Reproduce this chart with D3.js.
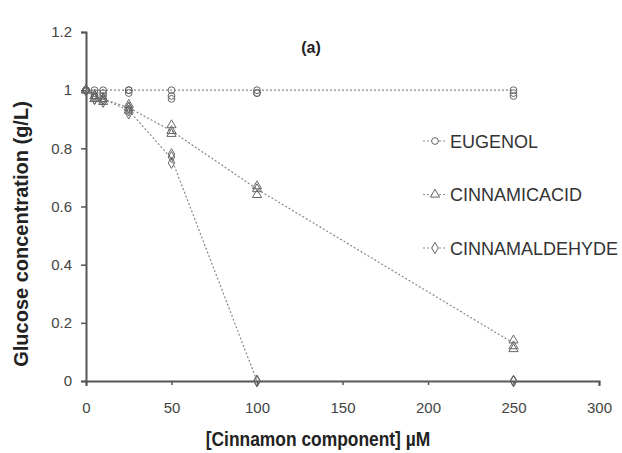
<!DOCTYPE html>
<html>
<head>
<meta charset="utf-8">
<script src="https://cdn.jsdelivr.net/npm/d3@7"></script>
<style>
body { margin: 0; background: #fff; }
text { font-family: Arial, "Liberation Sans", sans-serif; }
</style>
</head>
<body>
<script>
var width = 622, height = 453;
var margin = {left: 86, top: 32, right: 23, bottom: 72};

// concentrations (µM), replicate readings and plotted mean per series
var doses = [0, 5, 10, 25, 50, 100, 250];
var eugenol = [[1, 1, 1], [1, 0.99, 0.98], [1, 0.99, 0.98], [1, 1, 0.99], [1, 0.98, 0.97], [1, 0.99, 0.99], [1, 0.99, 0.98]];
var eugenolMean = [1, 1, 1, 1, 1, 1, 1];
var cinnamicAcid = [[1, 1, 1], [0.98, 0.97, 0.97], [0.97, 0.96, 0.97], [0.95, 0.94, 0.93], [0.88, 0.86, 0.85], [0.67, 0.66, 0.64], [0.14, 0.12, 0.11]];
var cinnamicAcidMean = [1, 0.975, 0.97, 0.94, 0.86, 0.66, 0.13];
var cinnamaldehyde = [[1, 1, 1], [0.98, 0.97, 0.97], [0.97, 0.96, 0.97], [0.94, 0.93, 0.92], [0.78, 0.77, 0.75], [0, 0, 0], [0, 0, 0]];
var cinnamaldehydeMean = [1, 0.975, 0.97, 0.93, 0.765, 0, 0];
var seriesNames = ["EUGENOL", "CINNAMICACID", "CINNAMALDEHYDE"];
var xTicks = [0, 50, 100, 150, 200, 250, 300];
var yTicks = [0, 0.2, 0.4, 0.6, 0.8, 1, 1.2];

var series = [
  {name: seriesNames[0], values: eugenol, mean: eugenolMean, symbol: d3.symbolCircle},
  {name: seriesNames[1], values: cinnamicAcid, mean: cinnamicAcidMean, symbol: d3.symbolTriangle},
  {name: seriesNames[2], values: cinnamaldehyde, mean: cinnamaldehydeMean, symbol: d3.symbolDiamond}
];

var svg = d3.select("body").append("svg")
    .attr("width", width).attr("height", height);

var x = d3.scaleLinear().domain([0, 300]).range([margin.left, width - margin.right]);
var y = d3.scaleLinear().domain([0, 1.2]).range([height - margin.bottom, margin.top]);

var xAxis = svg.append("g").attr("transform", "translate(0," + y(0) + ")")
    .call(d3.axisBottom(x).tickValues(xTicks).tickSize(5).tickPadding(16).tickFormat(d3.format("d")));
var yAxis = svg.append("g").attr("transform", "translate(" + x(0) + ",0)")
    .call(d3.axisLeft(y).tickValues(yTicks).tickSize(5).tickPadding(9).tickFormat(function(d){ return d3.format("")(+d.toFixed(1)); }));

[xAxis, yAxis].forEach(function(a){
  a.select(".domain").attr("stroke", "#555").attr("stroke-width", 2);
  a.selectAll(".tick line").attr("stroke", "#555").attr("stroke-width", 1.5);
  a.selectAll(".tick text").attr("fill", "#444").style("font-size", "15px");
});
xAxis.selectAll(".tick line").attr("y2", 4).attr("y1", 0);

var line = d3.line()
    .x(function(d, i){ return x(doses[i]); })
    .y(function(d){ return y(d); });

var sym = function(s, size){ return d3.symbol().type(s).size(size)(); };

series.forEach(function(s){
  svg.append("path").datum(s.mean).attr("d", line)
      .attr("fill", "none").attr("stroke", "#888").attr("stroke-width", 1.2)
      .attr("stroke-dasharray", "2,2");
  var pts = [];
  s.values.forEach(function(reps, i){ reps.forEach(function(v){ pts.push([doses[i], v]); }); });
  svg.append("g").selectAll("path").data(pts).enter().append("path")
      .attr("d", sym(s.symbol, 36))
      .attr("transform", function(d){ return "translate(" + x(d[0]) + "," + y(d[1]) + ")"; })
      .attr("fill", "none").attr("stroke", "#666").attr("stroke-width", 1);
});

var legend = svg.append("g").selectAll("g").data(series).enter().append("g")
    .attr("transform", function(d, i){ return "translate(423," + (141 + i * 53.5) + ")"; });
legend.append("line").attr("x1", 0).attr("x2", 24).attr("y1", 0).attr("y2", 0)
    .attr("stroke", "#888").attr("stroke-width", 1.2).attr("stroke-dasharray", "2,2");
legend.append("path").attr("d", function(d){ return sym(d.symbol, 36); })
    .attr("transform", "translate(12,0)").attr("fill", "#fff").attr("stroke", "#666");
legend.append("text").attr("x", 27).attr("y", 6.5).attr("fill", "#333")
    .style("font-size", "18px").text(function(d){ return d.name; });

svg.append("text").attr("x", 311).attr("y", 53).attr("text-anchor", "middle")
    .style("font-size", "16px").style("font-weight", "bold").attr("fill", "#222").text("(a)");
svg.append("text").attr("transform", "translate(28,234) rotate(-90)").attr("text-anchor", "middle")
    .style("font-size", "20px").style("font-weight", "bold").attr("fill", "#222")
    .text("Glucose concentration (g/L)");
svg.append("text").attr("transform", "translate(318,446) scale(0.87,1)").attr("text-anchor", "middle")
    .style("font-size", "20px").style("font-weight", "bold").attr("fill", "#222")
    .text("[Cinnamon component] µM");
</script>
</body>
</html>
